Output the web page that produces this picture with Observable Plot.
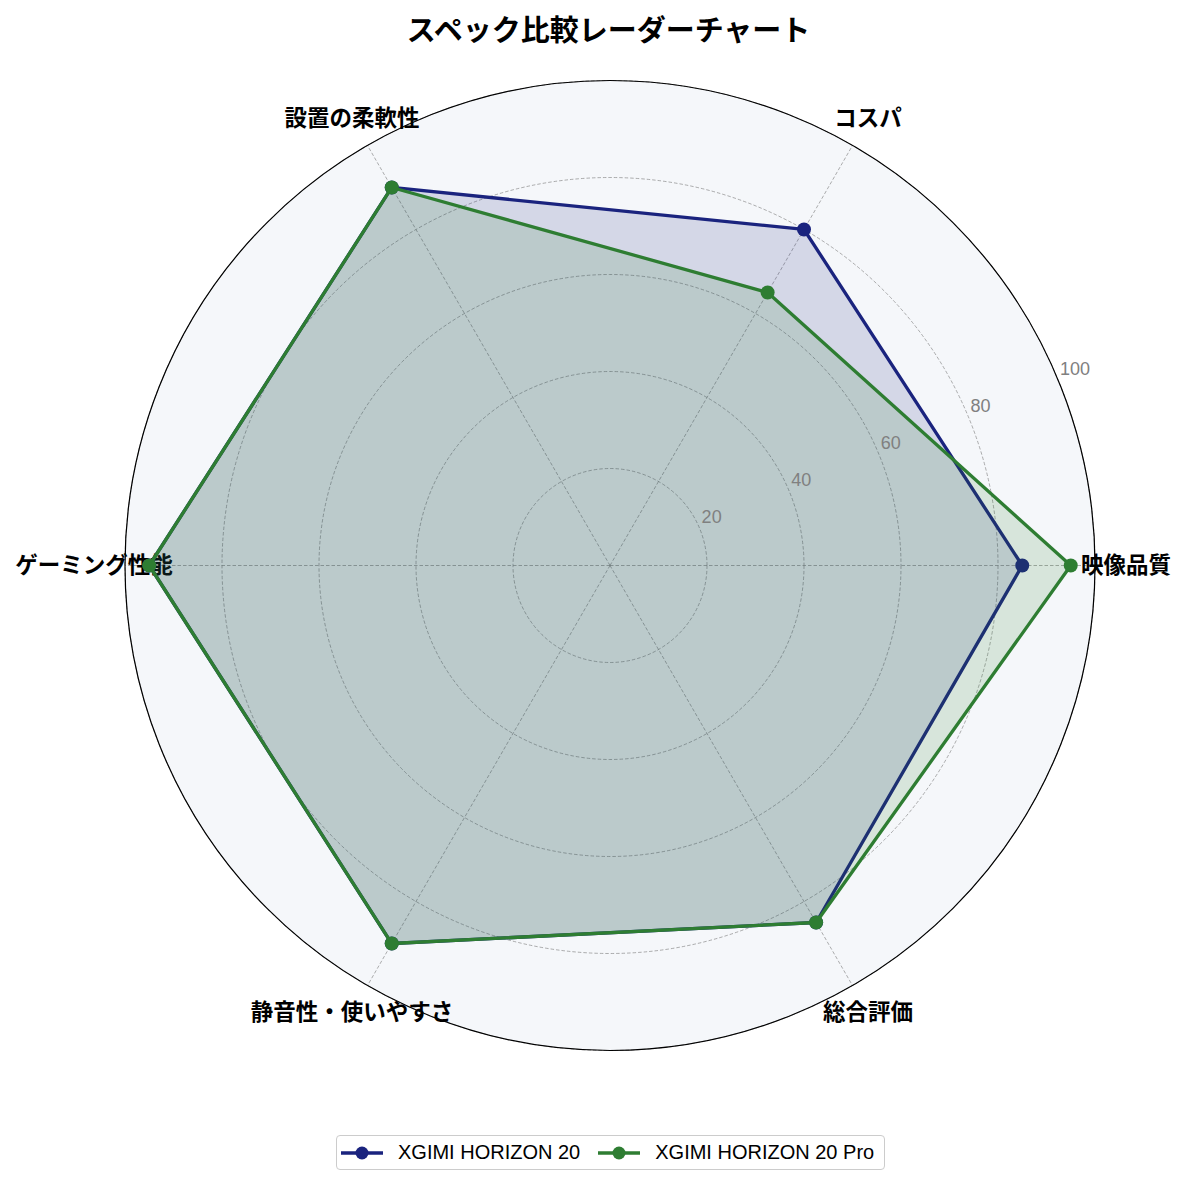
<!DOCTYPE html>
<html>
<head>
<meta charset="utf-8">
<script src="https://cdn.jsdelivr.net/npm/d3@7"></script>
<script src="https://cdn.jsdelivr.net/npm/@observablehq/plot@0.6"></script>
<style>
  html, body { margin: 0; padding: 0; background: #ffffff; }
  #page { position: relative; width: 1185px; height: 1186px; overflow: hidden; }
  #title { position: absolute; top: 0; left: 0; width: 1217px; height: 56px; line-height: 56px; text-align: center;
           font-family: "Noto Sans CJK JP", sans-serif; font-weight: bold; font-size: 29px; color: #000; }
  #chart { position: absolute; top: 56px; left: 0; }
  #legend { position: absolute; top: 1135px; left: 336px; height: 35px; box-sizing: border-box;
            border: 1.5px solid #cccccc; border-radius: 4px; display: flex; align-items: center;
            padding: 0 10px 0 4px; font-family: "Liberation Sans", sans-serif; font-size: 20px; color: #000; background: #fff; }
  .item { display: flex; align-items: center; }
  .item + .item { margin-left: 18px; }
  .item svg { margin-right: 15px; }
</style>
</head>
<body>
<div id="page">
  <div id="title"></div>
  <div id="chart"></div>
  <div id="legend"></div>
</div>
<script>
// ---- data ----
const titleText = "スペック比較レーダーチャート";
const categories = ["映像品質", "コスパ", "設置の柔軟性", "ゲーミング性能", "静音性・使いやすさ", "総合評価"];
const seriesNames = ["XGIMI HORIZON 20", "XGIMI HORIZON 20 Pro"];
const valuesH20 = [85, 80, 90, 95, 90, 85];
const valuesH20Pro = [95, 65, 90, 95, 90, 85];
const ringTicks = [20, 40, 60, 80, 100];
const seriesColors = ["#1a237e", "#2e7d32"];

// ---- build table ----
const seriesValues = [valuesH20, valuesH20Pro];
const angleOf = i => i * Math.PI * 2 / categories.length;
const rows = [];
seriesValues.forEach((vals, s) => {
  vals.forEach((v, i) => rows.push({series: seriesNames[s], category: categories[i], value: v, angle: angleOf(i)}));
});
const px = d => d.value * Math.cos(d.angle);
const py = d => d.value * Math.sin(d.angle);
const closedPolygon = name => {
  const pts = rows.filter(r => r.series === name);
  return [...pts, pts[0]];
};

const W = 1185, H = 1060;
const cx = 609.5, cy = 509, R = 485;
const labelRadius = 106.4;
const tickAngle = 22.5 * Math.PI / 180;

const seriesMarks = [];
seriesNames.forEach((name, s) => {
  const poly = closedPolygon(name);
  seriesMarks.push(
    Plot.line(poly, {x: px, y: py, fill: seriesColors[s], fillOpacity: 0.15, stroke: "none", curve: "linear"}),
    Plot.line(poly, {x: px, y: py, stroke: seriesColors[s], strokeWidth: 3.3, strokeLinejoin: "round", curve: "linear"}),
    Plot.dot(rows.filter(r => r.series === name), {x: px, y: py, r: 7, fill: seriesColors[s], stroke: "none"})
  );
});

const chart = Plot.plot({
  width: W,
  height: H,
  marginLeft: cx - R,
  marginRight: W - cx - R,
  marginTop: cy - R,
  marginBottom: H - cy - R,
  x: {domain: [-100, 100], axis: null},
  y: {domain: [-100, 100], axis: null},
  r: {type: "linear", domain: [0, 100], range: [0, R]},
  style: {background: "transparent", overflow: "visible"},
  marks: [
    // polar background
    Plot.dot([100], {x: 0, y: 0, r: d => d, fill: "#f5f7fa", stroke: "none"}),
    // grid rings
    Plot.dot(ringTicks, {x: 0, y: 0, r: d => d, fill: "none", stroke: "#808080", strokeOpacity: 0.8, strokeWidth: 0.8, strokeDasharray: "3.5,2"}),
    // spokes
    Plot.link(categories, {
      x1: 0, y1: 0,
      x2: (d, i) => 100 * Math.cos(angleOf(i)),
      y2: (d, i) => 100 * Math.sin(angleOf(i)),
      stroke: "#808080", strokeOpacity: 0.8, strokeWidth: 0.8, strokeDasharray: "3.5,2"
    }),
    // category labels
    Plot.text(categories, {
      x: (d, i) => labelRadius * Math.cos(angleOf(i)),
      y: (d, i) => labelRadius * Math.sin(angleOf(i)),
      text: d => d,
      fontFamily: "Noto Sans CJK JP",
      fontWeight: "bold",
      fontSize: 22.5,
      fill: "#000",
      textAnchor: "middle",
      lineAnchor: "middle"
    }),
    ...seriesMarks,
    // outer spine
    Plot.dot([100], {x: 0, y: 0, r: d => d, fill: "none", stroke: "#000", strokeWidth: 1.2}),
    // radial tick labels
    Plot.text(ringTicks, {
      x: d => d * Math.cos(tickAngle),
      y: d => d * Math.sin(tickAngle),
      text: d => String(d),
      fontFamily: "Liberation Sans",
      fontSize: 18,
      fill: "#808080",
      textAnchor: "start",
      lineAnchor: "middle",
      dx: 2,
      dy: -11
    })
  ]
});

document.getElementById("chart").appendChild(chart);
document.getElementById("title").textContent = titleText;

// ---- legend ----
const legend = document.getElementById("legend");
seriesNames.forEach((name, s) => {
  const item = document.createElement("div");
  item.className = "item";
  const ns = "http://www.w3.org/2000/svg";
  const sw = document.createElementNS(ns, "svg");
  sw.setAttribute("width", "42");
  sw.setAttribute("height", "14");
  const ln = document.createElementNS(ns, "line");
  ln.setAttribute("x1", "0"); ln.setAttribute("x2", "42");
  ln.setAttribute("y1", "7"); ln.setAttribute("y2", "7");
  ln.setAttribute("stroke", seriesColors[s]); ln.setAttribute("stroke-width", "3.3");
  const c = document.createElementNS(ns, "circle");
  c.setAttribute("cx", "21"); c.setAttribute("cy", "7"); c.setAttribute("r", "6.5");
  c.setAttribute("fill", seriesColors[s]);
  sw.appendChild(ln); sw.appendChild(c);
  const t = document.createElement("span");
  t.textContent = name;
  item.appendChild(sw); item.appendChild(t);
  legend.appendChild(item);
});
</script>
</body>
</html>
